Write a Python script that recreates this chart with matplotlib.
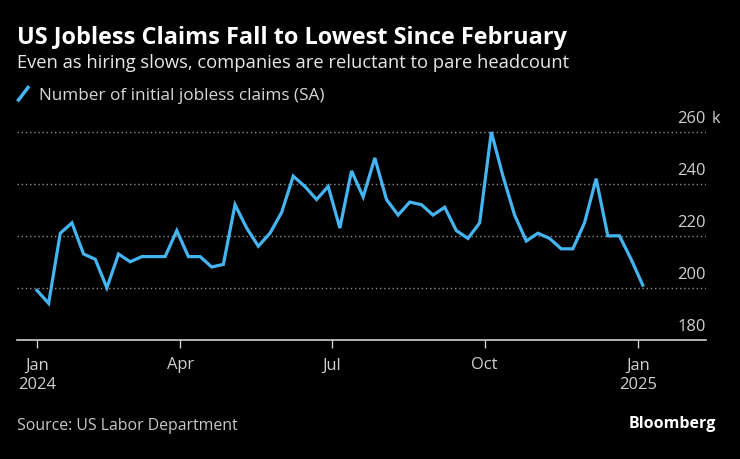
import matplotlib
matplotlib.use("Agg")
import matplotlib.pyplot as plt
from matplotlib.lines import Line2D
from matplotlib.transforms import offset_copy
import pandas as pd

plt.rcParams['font.family'] = ['Open Sans', 'DejaVu Sans']

# weekly initial jobless claims, thousands (week ending)
weeks = pd.date_range('2024-01-06', periods=53, freq='7D')
claims = [199, 194, 221, 225, 213, 211, 200, 213, 210, 212, 212, 212, 222,
          212, 212, 208, 209, 232, 223, 216, 221, 229, 243, 239, 234, 239,
          223, 245, 235, 250, 234, 228, 233, 232, 228, 231, 222, 219, 225,
          260, 243, 228, 218, 221, 219, 215, 215, 225, 242, 220, 220, 211,
          201]

tick_dates = pd.to_datetime(['2024-01-06', '2024-04-01', '2024-07-01',
                             '2024-10-01', '2025-01-01'])
tick_labels = ['Jan\n2024', 'Apr', 'Jul', 'Oct', 'Jan\n2025']
y_levels = [180, 200, 220, 240, 260]

blue = '#45b5f2'
bg = 'black'
small = 11.9

fig = plt.figure(figsize=(7.4, 4.6), dpi=100, facecolor=bg)
ax = fig.add_axes([17/740, 1 - 340.7/460, 689/740, 0.4629])
ax.set_facecolor(bg)

ax.plot(weeks, claims, color=blue, lw=2.3, solid_joinstyle='miter', zorder=3)

ax.set_xlim(pd.Timestamp('2023-12-25'), pd.Timestamp('2025-02-11'))
ax.set_ylim(180, 262)

# dotted gridlines
for v in y_levels[1:]:
    ax.axhline(v, color='#8a8a8a', lw=1, ls=(0, (1, 2)), zorder=1)

# y labels sitting above the gridlines on the right
lab_tr = offset_copy(ax.get_yaxis_transform(), fig=fig, x=0, y=6, units='dots')
for v in y_levels:
    ax.text(1.0, v, str(v), transform=lab_tr, ha='right', va='bottom',
            color='#d0d0d0', fontsize=small)
k_tr = offset_copy(ax.get_yaxis_transform(), fig=fig, x=6, y=6, units='dots')
ax.text(1.0, 260, 'k', transform=k_tr, ha='left', va='bottom',
        color='#d0d0d0', fontsize=small)

ax.set_yticks([])
for s in ['left', 'right', 'top']:
    ax.spines[s].set_visible(False)
ax.spines['bottom'].set_color('#cfcfcf')
ax.spines['bottom'].set_linewidth(1.2)

ax.set_xticks(tick_dates)
ax.set_xticklabels(tick_labels)
ax.tick_params(axis='x', colors='#cfcfcf', length=6, width=1, pad=6,
               labelsize=small, labelcolor='#d0d0d0')
for t in ax.get_xticklabels():
    t.set_linespacing(1.3)

# titles
fig.text(17/740, 1 - 37.5/460, 'US Jobless Claims Fall to Lowest Since February',
         color='white', fontsize=16.9, fontweight='bold', va='center', ha='left')
fig.text(17/740, 1 - 62.5/460,
         'Even as hiring slows, companies are reluctant to pare headcount',
         color='#e8e8e8', fontsize=13.2, va='center', ha='left')

# legend
fig.add_artist(Line2D([18.5/740, 28/740], [1 - 101/460, 1 - 88.5/460],
                      color=blue, lw=2.5, transform=fig.transFigure))
fig.text(39/740, 1 - 95.5/460, 'Number of initial jobless claims (SA)',
         color='#d8d8d8', fontsize=12.3, va='center', ha='left')

# footer
fig.text(17/740, 1 - 426/460, 'Source: US Labor Department',
         color='#c8c8c8', fontsize=11.4, va='center', ha='left')
fig.text(716/740, 1 - 424/460, 'Bloomberg', color='white', fontsize=11.5,
         fontweight='bold', va='center', ha='right')

fig.savefig('out.png', dpi=100, facecolor=bg)
